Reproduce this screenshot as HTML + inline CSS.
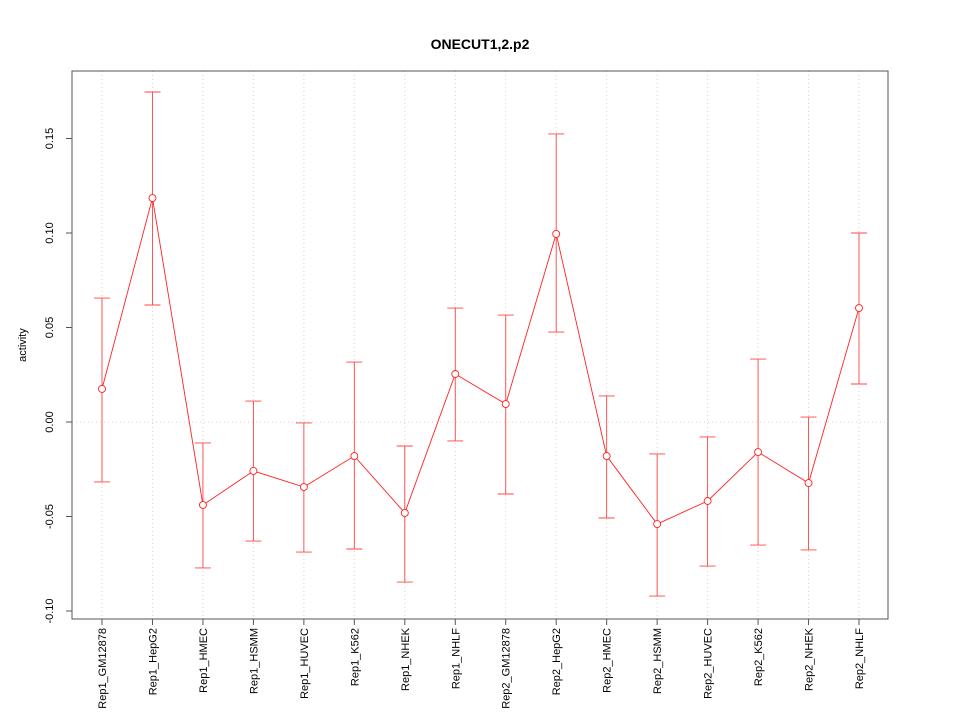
<!DOCTYPE html>
<html><head><meta charset="utf-8"><style>body{margin:0;background:#fff}svg{display:block;font-family:"Liberation Sans",sans-serif}</style></head>
<body>
<svg id="c" width="960" height="720"></svg>
<script>
const categories=["Rep1_GM12878","Rep1_HepG2","Rep1_HMEC","Rep1_HSMM","Rep1_HUVEC","Rep1_K562","Rep1_NHEK","Rep1_NHLF","Rep2_GM12878","Rep2_HepG2","Rep2_HMEC","Rep2_HSMM","Rep2_HUVEC","Rep2_K562","Rep2_NHEK","Rep2_NHLF"];
const values=[0.0175,0.1185,-0.0439,-0.0259,-0.0344,-0.018,-0.0481,0.0254,0.0095,0.0995,-0.018,-0.054,-0.0418,-0.0159,-0.0323,0.0603];
const upper=[0.0656,0.1746,-0.0111,0.0111,-0.0005,0.0317,-0.0127,0.0603,0.0566,0.1524,0.0138,-0.0169,-0.0079,0.0333,0.0026,0.1];
const lower=[-0.0317,0.0619,-0.0772,-0.063,-0.0688,-0.0672,-0.0847,-0.01,-0.0381,0.0476,-0.0508,-0.0921,-0.0762,-0.0651,-0.0677,0.0201];
const yTicks=[-0.10,-0.05,0.00,0.05,0.10,0.15];
const yTickLabels=["-0.10","-0.05","0.00","0.05","0.10","0.15"];
const svg=document.getElementById('c');const NS="http://www.w3.org/2000/svg";
function el(t,a,txt){const e=document.createElementNS(NS,t);for(const k in a)e.setAttribute(k,a[k]);if(txt!==undefined)e.textContent=txt;svg.appendChild(e);return e;}
const L=72,R=888,T=71,B=619;
const x=i=>102+i*(859-102)/15;
const y=v=>422-v*1890;
categories.forEach((c,i)=>{const g=el('line',{x1:x(i),x2:x(i),y1:T,y2:B,stroke:'#d3d3d3','stroke-dasharray':'1,3'});});
const hg=el('line',{x1:L,x2:R,y1:y(0),y2:y(0),stroke:'#d3d3d3','stroke-dasharray':'1,3'});
const bx=el('rect',{x:L,y:T,width:R-L,height:B-T,fill:'none',stroke:'#555'});
yTicks.forEach((v,i)=>{const t=el('line',{x1:L-6,x2:L,y1:y(v),y2:y(v),stroke:'#555'});
const tx=el('text',{x:L-19,y:y(v),'font-size':11,'text-anchor':'middle',transform:`rotate(-90 ${L-19} ${y(v)})`},yTickLabels[i]);});
categories.forEach((c,i)=>{const t=el('line',{x1:x(i),x2:x(i),y1:B,y2:B+6,stroke:'#555'});
const tx=el('text',{x:x(i)+4,y:B+9,'font-size':11,'text-anchor':'end',transform:`rotate(-90 ${x(i)+4} ${B+9})`},c);});
const yt=el('text',{x:26,y:345,'font-size':11,'text-anchor':'middle',transform:'rotate(-90 26 345)'},'activity');
const ti=el('text',{x:480,y:49,'font-size':14,'font-weight':'bold','text-anchor':'middle'},'ONECUT1,2.p2');
categories.forEach((c,i)=>{const e=el('path',{d:`M${x(i)},${y(upper[i])}V${y(lower[i])}M${x(i)-8},${y(upper[i])}H${x(i)+8}M${x(i)-8},${y(lower[i])}H${x(i)+8}`,stroke:'#f44',fill:'none','stroke-width':0.9});});
const ln=el('polyline',{points:values.map((v,i)=>x(i)+','+y(v)).join(' '),fill:'none',stroke:'#f22','stroke-width':0.9});
values.forEach((v,i)=>{const p=el('circle',{cx:x(i),cy:y(v),r:3.5,fill:'#fff',stroke:'#f22','stroke-width':0.9});});
</script>
</body></html>
